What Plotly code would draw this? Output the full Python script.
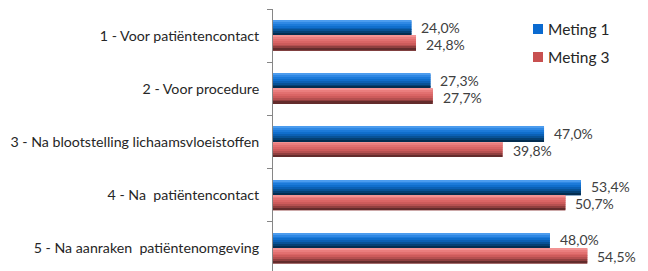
import plotly.graph_objects as go

categories = [
    "1 - Voor patiëntencontact",
    "2 - Voor procedure",
    "3 - Na blootstelling lichaamsvloeistoffen",
    "4 - Na  patiëntencontact",
    "5 - Na aanraken  patiëntenomgeving",
]
meting1 = [24.0, 27.3, 47.0, 53.4, 48.0]
meting3 = [24.8, 27.7, 39.8, 50.7, 54.5]

series_names = ["Meting 1", "Meting 3"]
base_colors = ["#0a6ad0", "#c85050"]
blue_grad = ["#4c9cee", "#2f88e4", "#1c7ad9", "#106ecc", "#0b60b4", "#085296", "#054073", "#032d50"]
red_grad = ["#f29393", "#ea7e7e", "#e27070", "#da6565", "#cd5b5b", "#b55050", "#903f3f", "#632c2c"]

# page body has an 8px margin; work in figure pixels
OFF = 8
W, H = 648, 271
ML, MR, MT, MB = 273 - OFF, 648 - (619 - OFF), 9 - OFF, 4
PW, PH = W - ML - MR, H - MT - MB


def px(x_screen):
    return (x_screen - OFF - ML) / PW


def py(y_screen):
    return (H - MB - (y_screen - OFF)) / PH


half = 0.283
fig = go.Figure()
annotations = []

for vals, name, col, grad, start, yshift in [
    (meting1, series_names[0], base_colors[0], blue_grad, -half, 8.5),
    (meting3, series_names[1], base_colors[1], red_grad, 0.0, -8.5),
]:
    fig.add_trace(go.Bar(
        x=vals, y=categories, orientation="h", name=name,
        marker=dict(color=col, line=dict(width=0)),
        width=half, offset=start,
        showlegend=False, hoverinfo="skip",
    ))
    n = len(grad)
    w = half / n
    for i, c in enumerate(grad):
        fig.add_trace(go.Bar(
            x=vals, y=categories, orientation="h",
            marker=dict(color=c, line=dict(width=0)),
            width=w * 1.02, offset=start + i * w,
            showlegend=False, hoverinfo="skip",
        ))
    for v, cat in zip(vals, categories):
        annotations.append(dict(
            text=f"{v:.1f}%".replace(".", ","), x=v, y=cat, xref="x", yref="y",
            xanchor="left", yanchor="middle", xshift=8, yshift=yshift,
            showarrow=False,
            font=dict(family="Lato, sans-serif", size=14, color="#404040"),
        ))

# legend drawn as swatches + text
legend_rows = [29, 57]
shapes = []
for name, col, yc in zip(series_names, base_colors, legend_rows):
    shapes.append(dict(
        type="rect", xref="paper", yref="paper",
        x0=px(533), x1=px(543), y0=py(yc + 5), y1=py(yc - 5),
        fillcolor=col, line=dict(width=0),
    ))
    annotations.append(dict(
        text=name, xref="paper", yref="paper", x=px(546), y=py(yc),
        xanchor="left", yanchor="middle", showarrow=False,
        font=dict(family="Lato, sans-serif", size=15.5, color="#262626"),
    ))

fig.update_layout(
    width=W, height=H,
    margin=dict(l=ML, r=MR, t=MT, b=MB, autoexpand=False),
    barmode="overlay",
    plot_bgcolor="white", paper_bgcolor="white",
    showlegend=False,
    font=dict(family="Lato, sans-serif", size=14, color="#262626"),
    shapes=shapes,
    annotations=annotations,
    xaxis=dict(range=[0, 60], visible=False, showgrid=False, automargin=False),
    yaxis=dict(
        type="category", categoryorder="array", categoryarray=categories,
        range=[4.5, -0.5], automargin=False,
        tickson="boundaries", ticks="outside", ticklen=5, tickcolor="#868686",
        ticklabelstandoff=10,
        showline=True, linecolor="#868686", linewidth=1,
        showgrid=False, zeroline=False,
        tickfont=dict(family="Lato, sans-serif", size=14.2, color="#262626"),
    ),
)

fig.write_html("out.html")
